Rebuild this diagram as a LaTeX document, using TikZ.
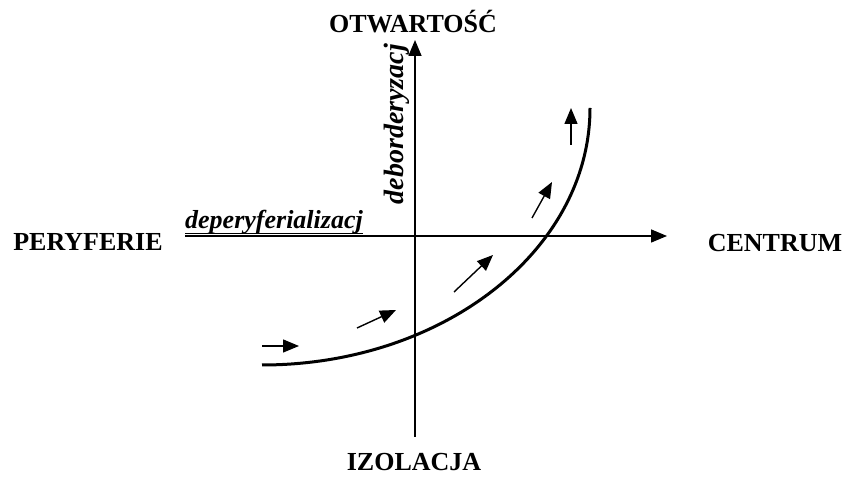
\documentclass[tikz,border=0pt]{standalone}
\usepackage{fontspec}
\setmainfont{Liberation Serif}
\usetikzlibrary{arrows.meta}
\begin{document}
\begin{tikzpicture}[x=1pt,y=1pt,
  lbl/.style={font=\fontsize{26}{30}\selectfont\bfseries, inner sep=0pt},
  ilbl/.style={font=\fontsize{26}{30}\selectfont\bfseries\itshape, inner sep=0pt},
  axis/.style={line width=1.5pt, -{Triangle[length=16pt,width=13pt]}},
  flow/.style={line width=1.4pt, -{Triangle[length=16pt,width=13pt]}},
  curve/.style={line width=3pt}]
\useasboundingbox (0,0) rectangle (843,492);
% axes
\coordinate (vb) at (415,55);
\coordinate (vt) at (415,452);
\coordinate (hl) at (185,256);
\coordinate (hr) at (667,256);
\draw[axis] (vb) -- (vt);
\draw[axis] (hl) -- (hr);
% labels
\node[lbl] (top) at (413,470) {OTWARTOŚĆ};
\node[lbl] (right) at (775,249) {CENTRUM};
\node[lbl] (left) at (88,250) {PERYFERIE};
\node[lbl] (bottom) at (414,30) {IZOLACJA};
\node[ilbl, anchor=base west] (dep) at (185,263) {deperyferializacj};
\draw[line width=1.5pt] ([yshift=-4.5pt]dep.base west) -- ([yshift=-4.5pt]dep.base east);
\node[ilbl, font=\fontsize{28}{32}\selectfont\bfseries\itshape, rotate=90] (deb) at (397,368) {deborderyzacj};
% curve
\coordinate (cs) at (262,127);
\draw[curve] (cs) arc[start angle=270, end angle=360, x radius=328, y radius=257] coordinate (ce);
% flow arrows
\coordinate (a1s) at (262,146); \coordinate (a1e) at (299,146);
\coordinate (a2s) at (357,164); \coordinate (a2e) at (396,182);
\coordinate (a3s) at (454,200); \coordinate (a3e) at (493,237);
\coordinate (a4s) at (532,274); \coordinate (a4e) at (552,310);
\coordinate (a5s) at (571,347); \coordinate (a5e) at (571,384);
\draw[flow] (a1s) -- (a1e);
\draw[flow] (a2s) -- (a2e);
\draw[flow] (a3s) -- (a3e);
\draw[flow] (a4s) -- (a4e);
\draw[flow] (a5s) -- (a5e);
\end{tikzpicture}
\end{document}
